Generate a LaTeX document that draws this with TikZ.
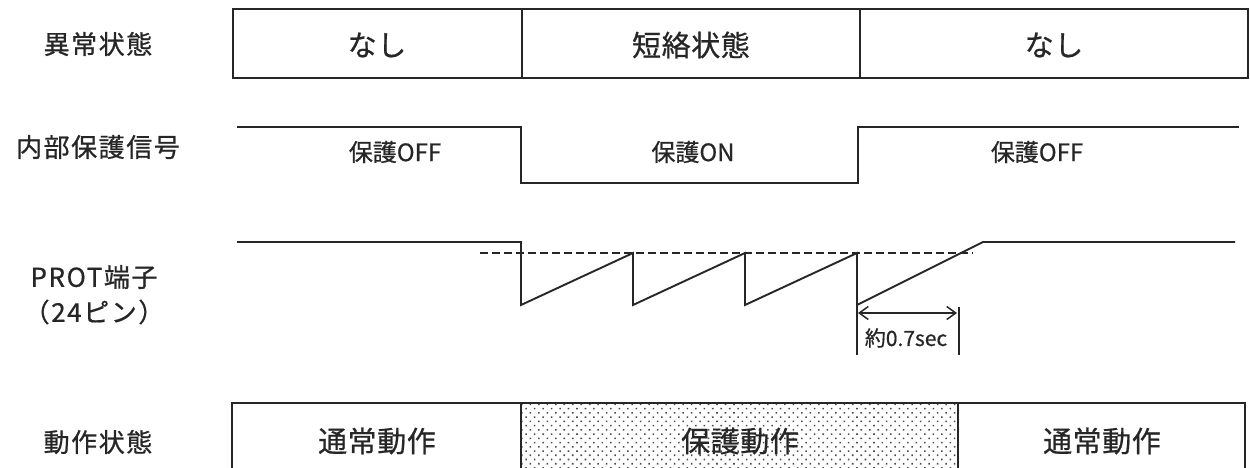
\documentclass[tikz,border=0pt]{standalone}
\usepackage{fontspec}
\setmainfont{Noto Sans CJK JP}[FakeBold=0.7]
\newfontfamily\lblfont{Noto Sans CJK JP}[LetterSpace=6,FakeBold=0.7]
\newfontfamily\boxfont{Noto Sans CJK JP}[LetterSpace=2,FakeBold=0.7]
\usetikzlibrary{arrows.meta,patterns.meta}
\begin{document}
\begin{tikzpicture}[x=1pt,y=-1pt,line width=1.7pt,line join=miter,
  rowlbl/.style={inner sep=0pt,font=\lblfont\fontsize{26}{30}\selectfont,text=black!85,align=center},
  boxtxt/.style={inner sep=0pt,font=\boxfont\fontsize{29}{34}\selectfont,text=black!85},
  sigtxt/.style={inner sep=0pt,font=\fontsize{24}{28}\selectfont,text=black!85},
  dimtxt/.style={inner sep=0pt,font=\fontsize{21}{24}\selectfont,text=black!85},
  sig/.style={draw=black!85,line width=1.9pt},
  thin/.style={draw=black!85,line width=1.5pt},
  dashline/.style={draw=black!85,line width=1.4pt,dash pattern=on 8pt off 4pt},
  dotfill/.style={pattern={Dots[distance=6pt,radius=1.1pt,angle=45]},pattern color=black!70}]
\useasboundingbox (0,0) rectangle (1250,468);

% row labels
\node[rowlbl] (l1) at (98,44) {異常状態};
\node[rowlbl] (l2) at (98,147) {内部保護信号};
\node[rowlbl] (l3a) at (94,277) {PROT端子};
\node[rowlbl] (l3b) at (94,312) {（24ピン）};
\node[rowlbl] (l4) at (98,442) {動作状態};

% row 1 box
\draw[black!85,line width=1.8pt] (233,9) rectangle (1248,78);
\draw[black!85,line width=1.8pt] (522,9) -- (522,78);
\draw[black!85,line width=1.8pt] (860,9) -- (860,78);
\node[boxtxt] (r1a) at (377,45) {なし};
\node[boxtxt] (r1b) at (691,45) {短絡状態};
\node[boxtxt] (r1c) at (1054,45) {なし};

% row 2 internal protection signal
\coordinate (s2a) at (237,127);
\coordinate (s2b) at (521,127);
\coordinate (s2c) at (521,183);
\coordinate (s2d) at (858,183);
\coordinate (s2e) at (858,127);
\coordinate (s2f) at (1239,127);
\draw[sig] (s2a) -- (s2b) -- (s2c) -- (s2d) -- (s2e) -- (s2f);
\node[sigtxt] (t2a) at (395,152) {保護OFF};
\node[sigtxt] (t2b) at (693,152) {保護ON};
\node[sigtxt] (t2c) at (1037,152) {保護OFF};

% row 3 PROT terminal
\coordinate (p0) at (237,242);
\coordinate (p1) at (521,242);
\coordinate (p2) at (521,305);
\coordinate (p3) at (633,253);
\coordinate (p4) at (633,305);
\coordinate (p5) at (745,253);
\coordinate (p6) at (745,305);
\coordinate (p7) at (857,253);
\coordinate (p8) at (857,305);
\coordinate (p9) at (983,242);
\coordinate (p10) at (1235,242);
\draw[dashline] (480,253) coordinate (d0) -- (973,253) coordinate (d1);
\draw[sig] (p0) -- (p1) -- (p2) -- (p3) -- (p4) -- (p5) -- (p6) -- (p7) -- (p8) -- (p9) -- (p10);

% dimension
\coordinate (m0) at (857,355);
\coordinate (m1t) at (959,307);
\coordinate (m1) at (959,355);
\coordinate (a0) at (858,313);
\coordinate (a1) at (957,313);
\draw[thin] (p8) -- (m0);
\draw[thin] (m1t) -- (m1);
\draw[thin,{Straight Barb[length=9pt,width=13pt]}-{Straight Barb[length=9pt,width=13pt]}] (a0) -- (a1);
\node[dimtxt] (dt) at (906,338) {約0.7sec};

% row 4 operation state
\fill[dotfill] (521,403) rectangle (958,470);
\draw[black!85,line width=1.8pt] (232,470) -- (232,403) -- (1245,403) -- (1245,470);
\draw[black!85,line width=1.8pt] (521,403) -- (521,470);
\draw[black!85,line width=1.8pt] (958,403) -- (958,470);
\node[boxtxt] (r4a) at (377,441) {通常動作};
\node[boxtxt] (r4b) at (740,441) {保護動作};
\node[boxtxt] (r4c) at (1102,441) {通常動作};
\end{tikzpicture}
\end{document}
